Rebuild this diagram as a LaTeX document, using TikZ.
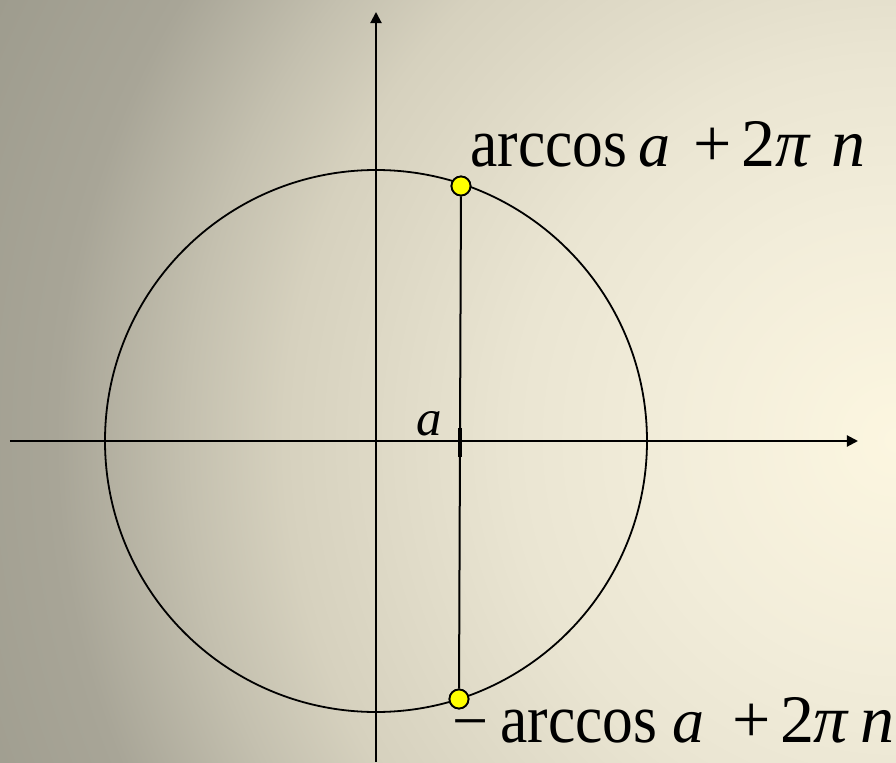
\documentclass[tikz,border=0pt]{standalone}
\usepackage{graphicx}
\usepackage{fontspec}
\setmainfont{Liberation Serif}
\usetikzlibrary{arrows.meta}
\definecolor{BgA}{RGB}{252,246,224}
\definecolor{BgB}{RGB}{242,237,218}
\definecolor{BgC}{RGB}{234,229,210}
\definecolor{BgD}{RGB}{214,209,190}
\definecolor{BgE}{RGB}{196,192,175}
\definecolor{BgF}{RGB}{168,165,151}
\definecolor{BgG}{RGB}{158,156,142}
\definecolor{PtYellow}{RGB}{255,255,0}
% radial background, centre at the right edge
\pgfdeclareradialshading{bgrad}{\pgfpoint{0bp}{0bp}}{color(0bp)=(BgA);
  color(5.65bp)=(BgB); color(9.58bp)=(BgC); color(15.3bp)=(BgD);
  color(17.75bp)=(BgE); color(21bp)=(BgF); color(25bp)=(BgG); color(50bp)=(BgG)}
\newcommand{\plusfont}{\fontsize{34}{40}\selectfont}
\newcommand{\arcword}{\scalebox{0.96}[1.08]{arccos}}
\tikzset{
  axisline/.style={-{Triangle[length=5.5pt,width=5.5pt]},line width=1pt},
  circ/.style={line width=0.9pt},
  chord/.style={line width=1pt},
  tickmark/.style={line width=2pt},
  pt/.style={circle,draw=black,fill=PtYellow,line width=0.9pt,
             minimum size=9.5pt,inner sep=0pt},
  biglbl/.style={font=\fontsize{32}{38}\selectfont,inner sep=0pt,anchor=base west},
}

\begin{document}
\begin{tikzpicture}[x=0.5pt,y=0.5pt]
  \begin{scope}
    \clip (-376,-321) rectangle (520,441);
    \shade[shading=bgrad] (520,1) circle[radius=1000];
  \end{scope}
  \useasboundingbox (-376,-321) rectangle (520,441);
  % axes
  \coordinate (xs) at (-366,0);
  \coordinate (xe) at (482,0);
  \coordinate (ys) at (0,-321);
  \coordinate (ye) at (0,429);
  \draw[axisline] (xs) -- (xe);
  \draw[axisline] (ys) -- (ye);
  \draw[circ] (0,0) circle[radius=271];
  % points on the circle
  \node[pt] (ptop) at (85,255) {};
  \node[pt] (pbot) at (83,-258) {};
  \draw[chord] (ptop) -- (pbot);
  \node[pt] at (ptop) {};
  \node[pt] at (pbot) {};
  \coordinate (tka) at (84,13);
  \coordinate (tkb) at (84,-16);
  \draw[tickmark] (tka) -- (tkb);
  \node[anchor=base west,inner sep=0pt,font=\fontsize{25.5}{30}\selectfont\itshape] (alab) at (40,6) {a};
  % labels
  \node[biglbl] (lup) at (94,275)
    {\rlap{\arcword}\hspace{84pt}\rlap{\textit{a}}\hspace{27.5pt}%
     \rlap{\plusfont+}\hspace{24pt}\rlap{\plusfont 2}\hspace{17pt}\rlap{\plusfont\textit{π}}%
     \hspace{28pt}{\plusfont\textit{n}}};
  \node[biglbl] (ldown) at (76,-301)
    {\rlap{−}\hspace{24pt}\rlap{\arcword}\hspace{86pt}\rlap{\textit{a}}%
     \hspace{30pt}\rlap{\plusfont+}\hspace{24pt}\rlap{\plusfont 2}\hspace{16.5pt}%
     \rlap{\plusfont\textit{π}}\hspace{23.5pt}{\plusfont\textit{n}}};
\end{tikzpicture}
\end{document}
